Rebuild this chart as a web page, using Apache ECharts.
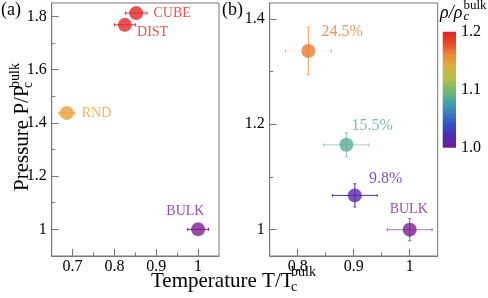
<!DOCTYPE html>
<html>
<head>
<meta charset="utf-8">
<script src="https://cdn.jsdelivr.net/npm/echarts@6/dist/echarts.min.js"></script>
<style>html,body{margin:0;padding:0;background:#fff;}#c{width:488px;height:298px;}</style>
</head>
<body>
<div id="c"></div>
<script>
// ---------- data ----------
// Panel (a)
const namesA = ['CUBE', 'DIST', 'RND', 'BULK'];
const tempA = [0.852, 0.825, 0.686, 1.0];
const presA = [1.812, 1.768, 1.437, 1.0];
const tempErrA = [0.026, 0.025, 0.019, 0.025];
const presErrA = [0, 0, 0, 0];
// Panel (b)
const namesB = ['24.5%', '15.5%', '9.8%', 'BULK'];
const tempB = [0.819, 0.887, 0.902, 1.0];
const presB = [1.339, 1.161, 1.065, 1.0];
const tempErrB = [0.041, 0.040, 0.040, 0.040];
const presErrB = [0.045, 0.023, 0.022, 0.021];
// tick values
const xMajorA = [0.7, 0.8, 0.9, 1.0];
const xMinorA = [0.75, 0.85, 0.95];
const yMajorA = [1.0, 1.2, 1.4, 1.6, 1.8];
const yMinorA = [1.1, 1.3, 1.5, 1.7];
const xMajorB = [0.8, 0.9, 1.0];
const xMinorB = [0.85, 0.95];
const yMajorB = [1.0, 1.2, 1.4];
const yMinorB = [1.1, 1.3];
// colour bar
const cbarTicks = [1.2, 1.1, 1.0];
const cbarTickLabels = ['1.2', '1.1', '1.0'];
const cbarMin = 1.0, cbarMax = 1.2;

// ---------- styles ----------
const FONT = '"Liberation Serif"';
const AX = '#777';
const colorsA = ['#e0282a', '#e0282a', '#e8a03c', '#7b1f8e'];
const errColA = ['#e0282a', '#e0282a', '#e8a03c', '#7b1f8e'];
const errOpA = [1, 1, 1, 1];
const colorsB = ['#e87a34', '#5aab9b', '#5a2aa8', '#7b1f8e'];
const errColB = ['#f0a060', '#8cc8bc', '#5a2aa8', '#9a5aaa'];
const errOpHB = [0.2, 0.8, 1, 0.8];
const labelOffA = [[36, 0.7], [27.7, 7], [29.8, 0], [-12.7, -18.4]];
const labelOffB = [[33.8, -18.7], [25.8, -19], [30.8, -16.7], [-1, -20.8]];
const labelSizeA = [14, 14, 14, 14];
const labelSizeB = [16, 16, 16, 14];
const cbarStops = ['#e02424', '#e64a2e', '#e88a30', '#d8b040', '#b8c048', '#7cb868', '#45a8a0', '#3a80c0', '#3450c8', '#4a2ab0', '#6e1e9c'];

const gridA = {left: 51.7, top: 3, width: 167.3, height: 253};
const gridB = {left: 269.7, top: 3, width: 168, height: 253};

function xAxisPair(gi, min, max, major, minor) {
  return [{
    type: 'value', gridIndex: gi, min: min, max: max, position: 'bottom',
    axisLine: {show: true, lineStyle: {color: AX, width: 1}},
    axisTick: {show: true, inside: true, length: 7, customValues: major, lineStyle: {color: AX}},
    axisLabel: {show: true, customValues: major, margin: 3, color: '#000', fontFamily: FONT, fontSize: 16},
    splitLine: {show: false}
  }, {
    type: 'value', gridIndex: gi, min: min, max: max, position: 'bottom',
    axisLine: {show: false},
    axisTick: {show: true, inside: true, length: 3.5, customValues: minor, lineStyle: {color: AX}},
    axisLabel: {show: false},
    splitLine: {show: false}
  }];
}
function yAxisPair(gi, min, max, major, minor) {
  return [{
    type: 'value', gridIndex: gi, min: min, max: max, position: 'left',
    axisLine: {show: true, lineStyle: {color: AX, width: 1}},
    axisTick: {show: true, inside: true, length: 7, customValues: major, lineStyle: {color: AX}},
    axisLabel: {show: true, customValues: major, margin: 5, color: '#000', fontFamily: FONT, fontSize: 16},
    splitLine: {show: false}
  }, {
    type: 'value', gridIndex: gi, min: min, max: max, position: 'left',
    axisLine: {show: false},
    axisTick: {show: true, inside: true, length: 3.5, customValues: minor, lineStyle: {color: AX}},
    axisLabel: {show: false},
    splitLine: {show: false}
  }];
}

function errSeries(xi, yi, T, P, TE, PE, cols, opH) {
  return {
    type: 'custom', xAxisIndex: xi, yAxisIndex: yi, z: 2,
    data: T.map((t, i) => [t, P[i], TE[i], PE[i]]),
    renderItem: function (params, api) {
      const i = params.dataIndex;
      const x = api.value(0), y = api.value(1), ex = api.value(2), ey = api.value(3);
      const children = [];
      const st = {stroke: cols[i], lineWidth: 1};
      if (ex > 0) {
        const a = api.coord([x - ex, y]), b = api.coord([x + ex, y]);
        children.push({type: 'line', shape: {x1: a[0], y1: a[1], x2: b[0], y2: b[1]}, style: Object.assign({opacity: opH[i]}, st)});
        children.push({type: 'line', shape: {x1: a[0], y1: a[1] - 1.5, x2: a[0], y2: a[1] + 1.5}, style: st});
        children.push({type: 'line', shape: {x1: b[0], y1: b[1] - 1.5, x2: b[0], y2: b[1] + 1.5}, style: st});
      }
      if (ey > 0) {
        const a = api.coord([x, y - ey]), b = api.coord([x, y + ey]);
        children.push({type: 'line', shape: {x1: a[0], y1: a[1], x2: b[0], y2: b[1]}, style: st});
        children.push({type: 'line', shape: {x1: a[0] - 1.5, y1: a[1], x2: a[0] + 1.5, y2: a[1]}, style: st});
        children.push({type: 'line', shape: {x1: b[0] - 1.5, y1: b[1], x2: b[0] + 1.5, y2: b[1]}, style: st});
      }
      return {type: 'group', children: children};
    }
  };
}

function pointSeries(xi, yi, T, P, names, cols, offs, sizes) {
  return {
    type: 'scatter', xAxisIndex: xi, yAxisIndex: yi, z: 3,
    symbol: 'circle', symbolSize: 14,
    data: T.map((t, i) => ({
      value: [t, P[i]],
      itemStyle: {color: cols[i]},
      label: {show: true, position: 'inside', offset: offs[i], formatter: names[i],
        color: cols[i], fontFamily: FONT, fontSize: sizes[i], textBorderWidth: 0, textBorderColor: 'transparent'}
    })),
    emphasis: {disabled: true}
  };
}

// colour bar geometry
const cb = {x: 442.7, y: 31.7, w: 13.3, h: 116};
const cbGraphics = [{
  type: 'rect', shape: {x: cb.x, y: cb.y, width: cb.w, height: cb.h},
  style: {fill: new echarts.graphic.LinearGradient(0, 0, 0, 1,
    cbarStops.map((c, i) => ({offset: i / (cbarStops.length - 1), color: c})))}
}].concat(cbarTicks.map((v, i) => ({
  type: 'text', x: cb.x + cb.w + 5, y: cb.y + (cbarMax - v) / (cbarMax - cbarMin) * cb.h,
  style: {text: cbarTickLabels[i], font: '16px ' + FONT, fill: '#000', align: 'left', verticalAlign: 'middle'}
})));

const texts = [
  // panel letters
  {type: 'text', x: 1, y: 10, style: {text: '(a)', font: '18px ' + FONT, fill: '#000', verticalAlign: 'middle'}},
  {type: 'text', x: 222, y: 10, style: {text: '(b)', font: '18px ' + FONT, fill: '#000', verticalAlign: 'middle'}},
  // x title
  {type: 'text', x: 151, y: 281.5, style: {text: 'Temperature T/T', font: '21px ' + FONT, fill: '#000', verticalAlign: 'middle'}},
  {type: 'text', x: 291, y: 272, style: {text: 'bulk', font: '14px ' + FONT, fill: '#000', verticalAlign: 'middle'}},
  {type: 'text', x: 291, y: 287.5, style: {text: 'c', font: '14px ' + FONT, fill: '#000', verticalAlign: 'middle'}},
  // y title (rotated)
  {type: 'text', x: 22, y: 191, rotation: Math.PI / 2, style: {text: 'Pressure P/P', font: '21px ' + FONT, fill: '#000', verticalAlign: 'middle'}},
  {type: 'text', x: 15.5, y: 88, rotation: Math.PI / 2, style: {text: 'bulk', font: '14px ' + FONT, fill: '#000', verticalAlign: 'middle'}},
  {type: 'text', x: 28.5, y: 88, rotation: Math.PI / 2, style: {text: 'c', font: '14px ' + FONT, fill: '#000', verticalAlign: 'middle'}},
  // colour bar title
  {type: 'text', x: 440, y: 13, style: {text: 'ρ/ρ', font: 'italic 18px ' + FONT, fill: '#000', verticalAlign: 'middle'}},
  {type: 'text', x: 463.5, y: 6, style: {text: 'bulk', font: '13px ' + FONT, fill: '#000', verticalAlign: 'middle'}},
  {type: 'text', x: 463.5, y: 17, style: {text: 'c', font: 'italic 13px ' + FONT, fill: '#000', verticalAlign: 'middle'}}
];

const chart = echarts.init(document.getElementById('c'), null, {renderer: 'canvas'});
chart.setOption({
  animation: false,
  backgroundColor: '#fff',
  textStyle: {fontFamily: FONT},
  grid: [
    Object.assign({show: true, borderColor: AX, borderWidth: 1, backgroundColor: 'transparent'}, gridA),
    Object.assign({show: true, borderColor: AX, borderWidth: 1, backgroundColor: 'transparent'}, gridB)
  ],
  xAxis: [].concat(xAxisPair(0, 0.65, 1.05, xMajorA, xMinorA), xAxisPair(1, 0.75, 1.05, xMajorB, xMinorB)),
  yAxis: [].concat(yAxisPair(0, 0.9, 1.85, yMajorA, yMinorA), yAxisPair(1, 0.95, 1.43, yMajorB, yMinorB)),
  series: [
    errSeries(0, 0, tempA, presA, tempErrA, presErrA, errColA, errOpA),
    pointSeries(0, 0, tempA, presA, namesA, colorsA, labelOffA, labelSizeA),
    errSeries(2, 2, tempB, presB, tempErrB, presErrB, errColB, errOpHB),
    pointSeries(2, 2, tempB, presB, namesB, colorsB, labelOffB, labelSizeB)
  ],
  graphic: cbGraphics.concat(texts)
});
</script>
</body>
</html>
